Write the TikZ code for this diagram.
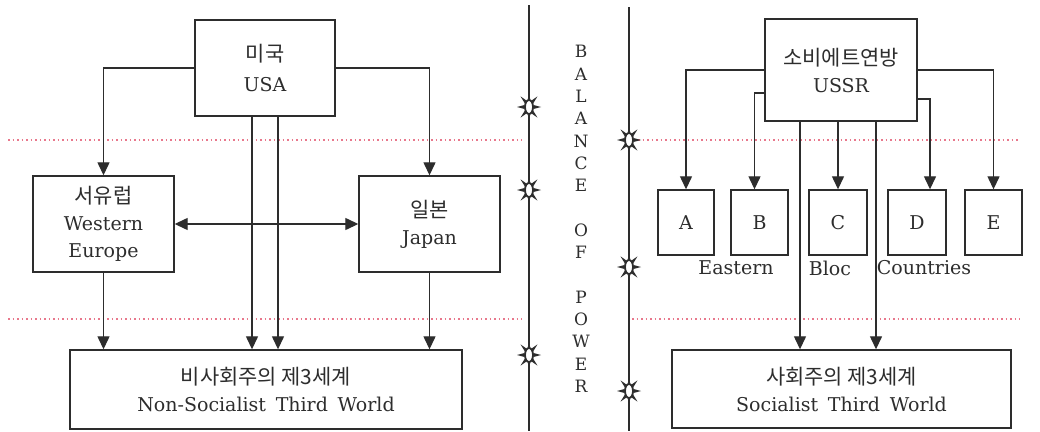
\documentclass[tikz,border=0pt]{standalone}
\usepackage{fontspec}
\setmainfont{DejaVu Serif}[WordSpace=1.6]
\newfontfamily\krfont{Noto Sans CJK KR}[Scale=1.1]
\usetikzlibrary{arrows.meta}

\definecolor{linegray}{RGB}{45,45,45}
\definecolor{dotpink}{RGB}{232,120,140}

\tikzset{
  box/.style={draw=linegray, line width=1.4pt, align=center, inner sep=0pt,
    text=linegray, font=\fontsize{19}{27}\selectfont},
  tip/.style={Triangle[length=13pt,width=12pt]},
  conn/.style={draw=linegray, line width=1.3pt, -{Triangle[length=13pt,width=12pt]}},
  axisline/.style={draw=linegray, line width=1.4pt},
  sepline/.style={draw=dotpink, line width=1.2pt, dash pattern=on 1.5pt off 3pt},
  sunmark/.pic={
    \foreach \a in {0,45,...,315}
      \fill[linegray] (\a-17:4.5pt and 7pt) -- (\a:12pt and 15pt) -- (\a+17:4.5pt and 7pt) -- cycle;
    \draw[linegray, fill=white, line width=1.8pt] (0,0) ellipse [x radius=4pt, y radius=7pt];
  }
}

\begin{document}
\begin{tikzpicture}[x=1pt, y=-1pt]

\path[fill=white] (0,0) rectangle (1040,431);
\useasboundingbox (0,0) rectangle (1040,431);

% Linhas pontilhadas
\draw[sepline] (8,140) -- (522,140);
\draw[sepline] (8,319) -- (522,319);
\draw[sepline] (638,140) -- (1020,140);
\draw[sepline] (632,319) -- (1020,319);

% Bloco ocidental
\node[box, minimum width=140pt, minimum height=96pt] (usa) at (265,68) {{\krfont 미국}\\[3pt]USA};
\node[box, minimum width=141pt, minimum height=96pt] (we) at (103.5,224) {{\krfont 서유럽}\\Western\\Europe};
\node[box, minimum width=141pt, minimum height=96pt] (jp) at (429.5,224) {{\krfont 일본}\\Japan};
\node[box, minimum width=392pt, minimum height=79pt] (nst) at (266,389.5)
  {{\krfont 비사회주의 제3세계}\\Non-Socialist Third World};

\draw[conn] (usa.west) -| (we.north);
\draw[conn] (usa.east) -| (jp.north);
\draw[conn] ([xshift=-13pt]usa.south) -- ([xshift=-13pt]usa.south |- nst.north);
\draw[conn] ([xshift=13pt]usa.south) -- ([xshift=13pt]usa.south |- nst.north);
\draw[conn] (we.south) -- (we.south |- nst.north);
\draw[conn] (jp.south) -- (jp.south |- nst.north);
\draw[conn, {Triangle[length=13pt,width=12pt]}-{Triangle[length=13pt,width=12pt]}] (we) -- (jp);

% Balance of power
\draw[axisline] (529,5) -- (529,431);
\draw[axisline] (629,7) -- (629,431);
\foreach \y in {107,190,355}
  \pic (sunl\y) at (529,\y) {sunmark};
\foreach \y in {140,267,391}
  \pic (sunr\y) at (629,\y) {sunmark};

\node[align=center, text=linegray, font=\fontsize{17}{22.3}\selectfont] (bop) at (581,219)
  {B\\A\\L\\A\\N\\C\\E\\[22.3pt]O\\F\\[22.3pt]P\\O\\W\\E\\R};

% Bloco oriental
\node[box, minimum width=152pt, minimum height=102pt] (ussr) at (841,70) {{\krfont 소비에트연방}\\USSR};
\foreach \n/\x/\w in {A/686/56, B/759.5/57, C/838/58, D/917/58, E/993.5/57}
  \node[box, minimum width=\w pt, minimum height=65pt] (\n) at (\x,222.5) {\n};
\node[box, minimum width=339pt, minimum height=78pt] (sst) at (841.5,389)
  {{\krfont 사회주의 제3세계}\\Socialist Third World};

\node[text=linegray, font=\fontsize{19}{27}\selectfont] (ebEast) at (736,268) {Eastern};
\node[text=linegray, font=\fontsize{19}{27}\selectfont] (ebBloc) at (830,268) {Bloc};
\node[text=linegray, font=\fontsize{19}{27}\selectfont] (ebCoun) at (924,268) {Countries};

\draw[conn] (ussr.west) -| (A.north);
\draw[conn] ([yshift=-23pt]ussr.west) -| ([xshift=-5pt]B.north);
\draw[conn] (C.north |- ussr.south) -- (C.north);
\draw[conn] ([yshift=-29pt]ussr.east) -| ([xshift=13pt]D.north);
\draw[conn] (ussr.east) -| (E.north);
\draw[conn] ([xshift=-41pt]ussr.south) -- ([xshift=-41pt]ussr.south |- sst.north);
\draw[conn] ([xshift=35pt]ussr.south) -- ([xshift=35pt]ussr.south |- sst.north);

\end{tikzpicture}
\end{document}
